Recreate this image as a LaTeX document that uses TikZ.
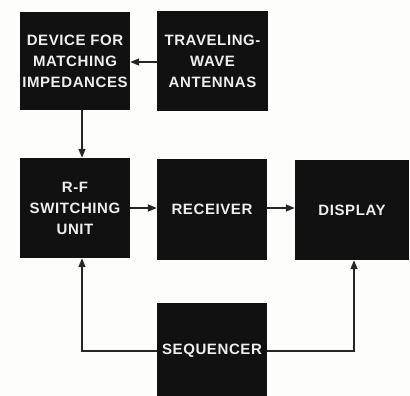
\documentclass[tikz,border=0pt]{standalone}
\usepackage{fontspec}
\setmainfont{Liberation Sans}[LetterSpace=4]
\usetikzlibrary{arrows.meta}
\definecolor{boxblack}{HTML}{111111}
\definecolor{txtwhite}{HTML}{EEEEEE}
\definecolor{paper}{HTML}{FDFDFB}
\tikzset{
  blk/.style={fill=boxblack, draw=none, text=txtwhite, align=center, inner sep=0pt,
    font=\bfseries\fontsize{15}{21}\selectfont},
  conn/.style={draw=black!85, line width=1.3pt, -{Triangle[length=9pt,width=7pt]}}
}
\begin{document}
\begin{tikzpicture}[x=1pt,y=-1pt]
\fill[paper] (0,0) rectangle (410,396);
\useasboundingbox (0,0) rectangle (410,396);
\node[blk, minimum width=110pt, minimum height=98pt] (dev) at (75,61) {DEVICE FOR\\MATCHING\\IMPEDANCES};
\node[blk, minimum width=111pt, minimum height=100pt] (ant) at (212.5,61.5) {TRAVELING-\\WAVE\\ANTENNAS};
\node[blk, minimum width=110pt, minimum height=100pt] (rf) at (75,208) {R-F\\SWITCHING\\UNIT};
\node[blk, minimum width=110pt, minimum height=101pt] (rec) at (212,209.5) {RECEIVER};
\node[blk, minimum width=114pt, minimum height=100pt] (dis) at (352,210) {DISPLAY};
\node[blk, minimum width=110pt, minimum height=93pt, text depth=0pt] (seq) at (212,349.5) {};
\node[text=txtwhite, font=\bfseries\fontsize{15}{21}\selectfont, inner sep=0pt] (seqt) at (212,351) {SEQUENCER};
\coordinate (sl) at (82,351);
\coordinate (sr) at (354,351);
\draw[conn] (ant.west |- 0,62) -- (dev.east |- 0,62);
\draw[conn] (dev.south -| 82,0) -- (rf.north -| 82,0);
\draw[conn] (rf.east |- 0,208) -- (rec.west |- 0,208);
\draw[conn] (rec.east |- 0,208) -- (dis.west |- 0,208);
\draw[conn] (seq.west |- sl) -- (sl) -- (rf.south -| sl);
\draw[conn] (seq.east |- sr) -- (sr) -- (dis.south -| sr);
\end{tikzpicture}
\end{document}
